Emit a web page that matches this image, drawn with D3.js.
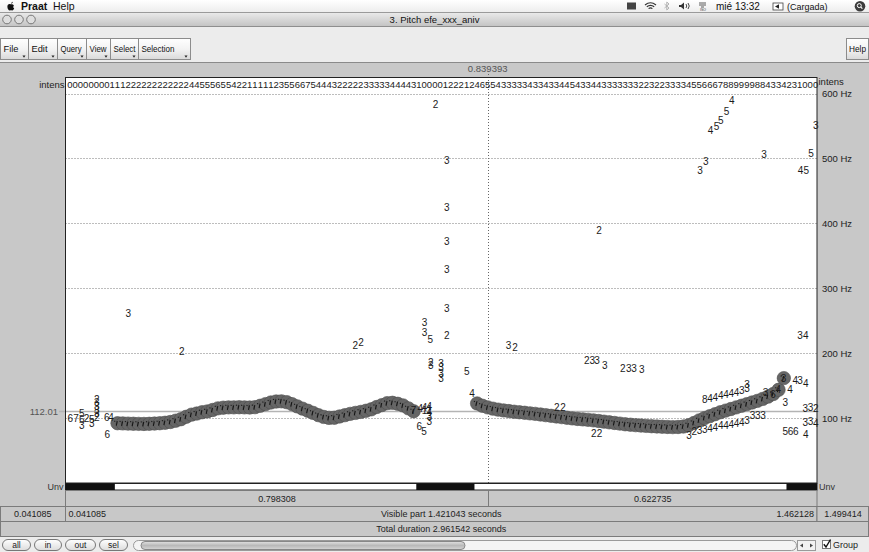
<!DOCTYPE html>
<html>
<head>
<meta charset="utf-8">
<script src="https://cdn.jsdelivr.net/npm/d3@7"></script>
<style>
  html, body { margin: 0; padding: 0; background: #ffffff; }
  svg { display: block; }
</style>
</head>
<body>
<svg id="chart" width="869" height="552"></svg>
<script>
// ---------------- data ----------------
const visibleStart = 0.041085;
const visibleEnd = 1.462128;
const totalDuration = 2.961542;
const cursorTime = 0.839393;
const horizontalCursorHz = 112.01;
const freqCeilingHz = 600;
const freqGridHz = [100, 200, 300, 400, 500, 600];
const frameStep = 0.01;

const windowTitle = "3. Pitch efe_xxx_aniv";
const toolbarMenus = ["File", "Edit", "Query", "View", "Select", "Selection"];
const bottomButtons = ["all", "in", "out", "sel"];

// intensity per frame (0-9), one digit per frame
const intensFirstTime = 0.0494;
const intensDigits =
  "00000000111222222222222445556554221111123556675444322222333334444310000122212465" +
  "5433333433433445433443333333223223333455666788999988433423100" + "0";

// selected pitch path: voiced stretch 1 and voiced stretch 2 (Hz per frame)
const seg1Start = 0.1394;
const seg1Hz = [92.6, 92.3, 92.0, 91.8, 91.6, 91.5, 91.7, 92.1, 92.6, 93.3,
                94.5, 96.5, 98.8, 102.5, 105.8, 107.5, 109.5, 110.8, 113.0, 115.5,
                116.5, 117.0, 117.0, 117.2, 117.0, 116.8, 117.3, 119.5, 122.0, 124.5,
                126.0, 126.3, 125.0, 122.0, 118.5, 115.0, 111.8, 108.5, 105.0, 102.3,
                100.8, 101.0, 103.0, 105.0, 107.0, 108.5, 110.0, 111.8, 114.0, 117.5,
                120.5, 123.5, 124.0, 122.5, 120.0, 115.5, 111.0];
const seg2Start = 0.8194;
const seg2Hz = [123.0, 119.5, 117.0, 115.0, 113.5, 112.3, 111.3, 110.3, 109.5, 108.7,
                107.8, 107.0, 106.0, 105.0, 104.0, 103.0, 102.0, 101.0, 100.0, 99.2,
                98.5, 97.8, 97.0, 96.0, 95.0, 94.0, 93.0, 92.0, 91.0, 90.3,
                89.6, 89.0, 88.5, 88.0, 87.6, 87.2, 86.9, 86.6, 86.8, 87.5,
                89.5, 93.0, 97.0, 100.5, 103.5, 106.5, 109.5, 112.0, 114.5, 117.0,
                119.5, 122.0, 124.5, 127.0, 130.0, 133.5, 137.5, 144.0, 162.0];

// other pitch candidates: [time s, frequency Hz, strength digit]
const candidates = [
  [0.741, 583, "2"], [0.762, 497, "3"], [0.762, 425, "3"], [0.762, 372, "3"],
  [0.762, 330, "3"], [0.762, 270, "3"], [0.720, 247, "3"], [0.720, 232, "3"],
  [0.731, 222, "5"], [0.762, 228, "2"], [0.879, 213, "3"], [0.891, 209, "2"],
  [1.301, 589, "4"], [1.291, 573, "5"], [1.280, 559, "5"], [1.272, 549, "5"],
  [1.261, 543, "4"], [1.460, 551, "3"], [1.362, 506, "3"], [1.451, 508, "5"],
  [1.252, 495, "3"], [1.241, 482, "3"], [1.431, 481, "4"], [1.442, 481, "5"],
  [1.050, 390, "2"], [1.430, 227, "3"], [1.441, 227, "4"],
  [0.160, 262, "3"], [0.261, 203, "2"], [0.589, 213, "2"], [0.600, 217, "2"],
  [1.027, 189, "2"], [1.037, 189, "3"], [1.046, 189, "3"], [1.061, 182, "3"],
  [1.095, 177, "2"], [1.106, 177, "3"], [1.116, 177, "3"], [1.131, 176, "3"],
  [0.732, 186, "2"], [0.732, 181, "3"],
  [0.751, 185, "3"], [0.751, 178, "3"], [0.751, 170, "3"], [0.751, 162, "3"],
  [0.800, 172, "5"], [0.810, 139, "4"],
  [0.699, 113, "7"], [0.712, 116, "4"], [0.720, 117, "4"], [0.720, 113, "1"],
  [0.729, 118, "4"], [0.729, 114, "1"], [0.729, 109, "4"], [0.729, 103, "3"], [0.729, 96, "3"],
  [0.710, 87, "6"], [0.719, 80, "5"],
  [0.050, 100, "6"], [0.061, 100, "7"], [0.072, 107, "5"], [0.072, 99, "6"], [0.072, 90, "3"],
  [0.081, 100, "2"], [0.091, 99, "5"], [0.091, 92, "3"],
  [0.100, 130, "2"], [0.100, 124, "3"], [0.100, 118, "3"], [0.100, 112, "3"], [0.100, 107, "3"], [0.100, 101, "2"],
  [0.119, 101, "6"], [0.127, 101, "4"], [0.120, 76, "6"],
  [0.970, 117, "2"], [0.982, 117, "2"], [1.040, 77, "2"], [1.051, 77, "2"],
  [1.25, 128.5, "8"], [1.26, 130.8, "4"], [1.27, 133.1, "4"], [1.28, 134.7, "4"], [1.29, 136.2, "4"],
  [1.30, 138.5, "4"], [1.31, 140.8, "4"], [1.32, 143.1, "3"], [1.33, 145.5, "3"], [1.33, 153, "3"],
  [1.22, 74.6, "3"], [1.23, 80.7, "2"], [1.24, 82.3, "3"], [1.25, 83.8, "3"], [1.26, 85.4, "4"],
  [1.27, 86.9, "4"], [1.28, 88.5, "4"], [1.29, 90.0, "4"], [1.30, 91.5, "4"], [1.31, 93.1, "4"],
  [1.32, 94.6, "4"], [1.33, 97.0, "3"], [1.34, 104, "3"], [1.35, 104, "3"], [1.36, 104, "3"],
  [1.421, 159, "4"], [1.430, 158, "3"], [1.441, 154, "4"], [1.411, 145, "4"], [1.402, 124, "3"],
  [1.440, 115, "3"], [1.450, 117, "3"], [1.460, 116, "2"],
  [1.440, 94, "3"], [1.450, 96, "3"], [1.460, 92, "4"],
  [1.402, 80, "5"], [1.412, 80, "6"], [1.422, 80, "6"], [1.441, 76, "4"],
  [1.365, 140, "3"], [1.399, 162, "3"], [1.389, 144, "4"], [1.379, 137.5, "6"]
];

// ---------------- drawing ----------------
const W = 869, H = 552;
const FONT = "'Liberation Sans', Arial, Helvetica, sans-serif";
const NARROW = "'Liberation Sans Narrow', 'Liberation Sans', sans-serif";
const plotL = 65.5, plotR = 817, plotTop = 77, plotBottom = 483;

const svg = d3.select("#chart").attr("font-family", FONT);
const defs = svg.append("defs");

function vGrad(id, stops) {
  const g = defs.append("linearGradient").attr("id", id)
    .attr("x1", 0).attr("y1", 0).attr("x2", 0).attr("y2", 1);
  stops.forEach(([o, c]) => g.append("stop").attr("offset", o).attr("stop-color", c));
}
vGrad("menuG", [[0, "#ffffff"], [1, "#ededed"]]);
vGrad("titleG", [[0, "#e9e9e9"], [1, "#c4c4c4"]]);
vGrad("btnG", [[0, "#ffffff"], [0.5, "#f3f3f3"], [1, "#d9d9d9"]]);
vGrad("pillG", [[0, "#ffffff"], [1, "#dcdcdc"]]);
vGrad("thumbG", [[0, "#e2e2e2"], [0.5, "#b9b9b9"], [1, "#d5d5d5"]]);

// scales
const x = d3.scaleLinear().domain([visibleStart, visibleEnd]).range([plotL, plotR]);
const y = d3.scaleLinear().domain([0, freqCeilingHz]).range([483.4, 93.5]);

// ---- system menu bar ----
svg.append("rect").attr("x", 0).attr("y", 0).attr("width", W).attr("height", 12).attr("fill", "url(#menuG)");
svg.append("line").attr("x1", 0).attr("x2", W).attr("y1", 12.5).attr("y2", 12.5).attr("stroke", "#9a9a9a");
// apple
svg.append("path").attr("fill", "#111")
  .attr("d", "M10.5,4.2 C8.6,3.6 7.2,5 7.4,7 C7.6,9.2 8.8,10.8 10,10.6 C10.4,10.5 10.7,10.3 11,10.3 C11.3,10.3 11.6,10.5 12,10.6 C13,10.7 13.9,9.4 14.2,8.3 C13.2,7.9 12.9,6.3 13.9,5.4 C13.3,4.4 12.2,4 11.5,4.2 C11.1,4.3 10.9,4.3 10.5,4.2 Z M11.2,3.8 C11.2,2.8 11.9,2 12.8,1.8 C12.8,2.8 12.1,3.6 11.2,3.8 Z");
svg.append("text").attr("x", 21).attr("y", 9.8).attr("font-size", 10.5).attr("font-weight", "bold").attr("fill", "#111").text("Praat");
svg.append("text").attr("x", 53).attr("y", 9.8).attr("font-size", 10.5).attr("fill", "#111").text("Help");
// status icons
const st = svg.append("g").attr("fill", "none").attr("stroke", "#333");
st.append("rect").attr("x", 627).attr("y", 2.5).attr("width", 9).attr("height", 7).attr("fill", "#444").attr("stroke", "none");
st.append("path").attr("stroke-width", 1.2).attr("d", "M645,5 Q650.5,0.5 656,5 M646.8,6.8 Q650.5,3.8 654.2,6.8 M648.6,8.6 Q650.5,7 652.4,8.6");
st.append("path").attr("stroke", "#aaa").attr("stroke-width", 0.9).attr("d", "M664.5,4 L669,8 L666.8,10 L666.8,2 L669,4 L664.5,8");
st.append("path").attr("fill", "#333").attr("stroke", "none").attr("d", "M679,5 L681,5 L684,2.5 L684,9.5 L681,7 L679,7 Z");
st.append("path").attr("stroke-width", 0.9).attr("d", "M686,4 Q687.5,6 686,8 M688,3 Q690.5,6 688,9");
st.append("path").attr("stroke-width", 0.8).attr("d", "M699,3 L706,3 M699,5 L706,5 M701,7 L704,7");
svg.append("text").attr("x", 700).attr("y", 10.8).attr("font-size", 3.5).attr("fill", "#333").text("ISO");
svg.append("text").attr("x", 716).attr("y", 9.8).attr("font-size", 10).attr("fill", "#111").text("mié 13:32");
svg.append("rect").attr("x", 773).attr("y", 3).attr("width", 10).attr("height", 7).attr("fill", "#fff").attr("stroke", "#444").attr("stroke-width", 0.8);
svg.append("path").attr("fill", "#222").attr("d", "M775,6.5 L779,4.2 L779,8.8 Z");
svg.append("text").attr("x", 787).attr("y", 9.5).attr("font-size", 9).attr("fill", "#111").text("(Cargada)");
svg.append("circle").attr("cx", 860).attr("cy", 6.2).attr("r", 5.3).attr("fill", "#3c3c3c");
svg.append("circle").attr("cx", 859.3).attr("cy", 5.6).attr("r", 2).attr("fill", "none").attr("stroke", "#fff").attr("stroke-width", 1);
svg.append("line").attr("x1", 860.8).attr("y1", 7.1).attr("x2", 862.4).attr("y2", 8.7).attr("stroke", "#fff").attr("stroke-width", 1.2);

// ---- window title bar ----
svg.append("rect").attr("x", 0).attr("y", 13).attr("width", W).attr("height", 13).attr("fill", "url(#titleG)");
svg.append("line").attr("x1", 0).attr("x2", W).attr("y1", 26.5).attr("y2", 26.5).attr("stroke", "#8e8e8e");
[7, 19, 31].forEach(cx => svg.append("circle").attr("cx", cx).attr("cy", 19.5).attr("r", 4.3)
  .attr("fill", "#dedede").attr("stroke", "#6d6d6d").attr("stroke-width", 0.9));
svg.append("text").attr("x", W / 2).attr("y", 23).attr("text-anchor", "middle").attr("font-size", 9.5).attr("fill", "#111").text(windowTitle);

// ---- editor toolbar ----
svg.append("rect").attr("x", 0).attr("y", 27).attr("width", W).attr("height", 35).attr("fill", "#ececec");
const tb = svg.append("g");
let bx = 0.5;
const menuW = [28, 29, 29, 24, 28, 52];
const labelW = [15, 16, 21, 17, 22, 33];
toolbarMenus.forEach((name, i) => {
  const g = tb.append("g");
  const bw = menuW[i];
  g.append("rect").attr("x", bx).attr("y", 38.5).attr("width", bw).attr("height", 21)
    .attr("fill", "url(#btnG)").attr("stroke", "#8c8c8c").attr("stroke-width", 1);
  g.append("text").attr("x", bx + 3).attr("y", 51.5).attr("font-size", 9).attr("font-family", NARROW)
    .attr("fill", "#111").attr("textLength", labelW[i]).attr("lengthAdjust", "spacingAndGlyphs").text(name);
  g.append("path").attr("fill", "#222").attr("d", `M${bx + bw - 6},55.5 l3,0 l-1.5,2.2 z`);
  bx += bw;
});
tb.append("rect").attr("x", 846.5).attr("y", 38.5).attr("width", 22).attr("height", 21).attr("fill", "url(#btnG)").attr("stroke", "#8c8c8c");
tb.append("text").attr("x", 849).attr("y", 51.5).attr("font-size", 9).attr("font-family", NARROW).attr("fill", "#111")
  .attr("textLength", 17).attr("lengthAdjust", "spacingAndGlyphs").text("Help");

// ---- editor drawing area ----
svg.append("rect").attr("x", 0).attr("y", 62).attr("width", W).attr("height", 475).attr("fill", "#c8c8c8");
svg.append("line").attr("x1", 0).attr("x2", W).attr("y1", 62.5).attr("y2", 62.5).attr("stroke", "#8a8a8a");
svg.append("rect").attr("x", plotL).attr("y", plotTop).attr("width", plotR - plotL).attr("height", plotBottom - plotTop).attr("fill", "#ffffff");

// frequency grid (dotted) and right-hand labels
const gridG = svg.append("g");
freqGridHz.forEach(f => {
  gridG.append("line").attr("x1", plotL).attr("x2", plotR).attr("y1", Math.round(y(f)) + 0.5).attr("y2", Math.round(y(f)) + 0.5)
    .attr("stroke", "#7a7a7a").attr("stroke-width", 1).attr("stroke-dasharray", "1,2");
  gridG.append("text").attr("x", plotR + 5).attr("y", y(f) + 3.5).attr("font-size", 9.5).attr("fill", "#222").text(f + " Hz");
});

// horizontal cursor at 112.01 Hz
const hc = Math.round(y(horizontalCursorHz)) + 0.5;
svg.append("line").attr("x1", 59).attr("x2", plotR).attr("y1", hc).attr("y2", hc).attr("stroke", "#b4b4b4").attr("stroke-width", 1.4);
svg.append("text").attr("x", 58).attr("y", hc + 3.3).attr("text-anchor", "end").attr("font-size", 9.5).attr("fill", "#555")
  .text(d3.format(".2f")(horizontalCursorHz));

// vertical cursor
const cx0 = Math.round(x(cursorTime)) + 0.5;
svg.append("line").attr("x1", cx0).attr("x2", cx0).attr("y1", 74).attr("y2", plotBottom)
  .attr("stroke", "#666").attr("stroke-width", 1).attr("stroke-dasharray", "1,2");
svg.append("text").attr("x", x(cursorTime)).attr("y", 71.5).attr("text-anchor", "middle").attr("font-size", 9.5).attr("fill", "#555")
  .text(d3.format(".6f")(cursorTime));

// intensity row
const intensG = svg.append("g").attr("font-size", 9.5).attr("fill", "#222").attr("text-anchor", "middle");
intensG.selectAll("text").data(intensDigits.split("")).join("text")
  .attr("x", (d, i) => x(intensFirstTime + i * frameStep))
  .attr("y", 87.5)
  .text(d => d);
svg.append("text").attr("x", plotL - 1).attr("y", 87.5).attr("text-anchor", "end").attr("font-size", 9.5).attr("fill", "#222").text("intens");
svg.append("text").attr("x", plotR + 1.5).attr("y", 84.5).attr("font-size", 9.5).attr("fill", "#222").text("intens");

// pitch path circles
const pathFrames = [
  ...seg1Hz.map((f, i) => ({ t: seg1Start + i * frameStep, f })),
  ...seg2Hz.map((f, i) => ({ t: seg2Start + i * frameStep, f }))
];
const pitchG = svg.append("g");
pitchG.selectAll("circle").data(pathFrames).join("circle")
  .attr("cx", d => x(d.t)).attr("cy", d => y(d.f)).attr("r", 6.7)
  .attr("fill", "#666666").attr("stroke", "#4d4d4d").attr("stroke-width", 0.6);
pitchG.selectAll("path.mark").data(pathFrames).join("path").attr("class", "mark")
  .attr("d", d => { const px = x(d.t), py = y(d.f); return `M${px - 1.2},${py + 2.4} L${px - 0.2},${py - 2.1} M${px - 3},${py - 1.6} l0.6,-0.9`; })
  .attr("stroke", "#151515").attr("stroke-width", 1.1).attr("fill", "none");

// remaining candidates as strength digits
svg.append("g").attr("font-size", 10).attr("fill", "#1b1b1b").attr("text-anchor", "middle")
  .selectAll("text").data(candidates).join("text")
  .attr("x", d => x(d[0])).attr("y", d => y(d[1]) + 3.6)
  .text(d => d[2]);

// plot frame
svg.append("rect").attr("x", plotL).attr("y", plotTop + 0.5).attr("width", plotR - plotL).attr("height", plotBottom - plotTop - 0.5)
  .attr("fill", "none").attr("stroke", "#222").attr("stroke-width", 1);

// voiced / unvoiced bar
const uvTop = 483.5, uvBot = 490;
svg.append("rect").attr("x", plotL).attr("y", uvTop).attr("width", plotR - plotL).attr("height", uvBot - uvTop).attr("fill", "#fff").attr("stroke", "#222").attr("stroke-width", 1);
const seg1End = seg1Start + (seg1Hz.length - 1) * frameStep;
const seg2End = seg2Start + (seg2Hz.length - 1) * frameStep;
const unvoiced = [
  [visibleStart, seg1Start - frameStep / 2],
  [seg1End + frameStep / 2, seg2Start - frameStep / 2],
  [seg2End + frameStep / 2, visibleEnd]
];
svg.append("g").selectAll("rect").data(unvoiced).join("rect")
  .attr("x", d => x(d[0])).attr("y", uvTop).attr("width", d => x(d[1]) - x(d[0])).attr("height", uvBot - uvTop).attr("fill", "#111");
svg.append("text").attr("x", plotL - 2).attr("y", 489.5).attr("text-anchor", "end").attr("font-size", 9).attr("fill", "#333").text("Unv");
svg.append("text").attr("x", plotR + 2).attr("y", 489.5).attr("font-size", 9).attr("fill", "#333").text("Unv");

// time bars
function cell(x0, y0, x1, y1) {
  svg.append("rect").attr("x", x0).attr("y", y0).attr("width", x1 - x0).attr("height", y1 - y0)
    .attr("fill", "#c8c8c8").attr("stroke", "#7b7b7b").attr("stroke-width", 1);
}
const fmt6 = d3.format(".6f");
cell(plotL, 490.5, cx0, 506.5);
cell(cx0, 490.5, plotR, 506.5);
cell(0.5, 506.5, plotL, 521.5);
cell(plotL, 506.5, plotR, 521.5);
cell(plotR, 506.5, 868.5, 521.5);
cell(0.5, 521.5, 868.5, 536.5);
const tg = svg.append("g").attr("font-size", 9).attr("fill", "#222");
tg.append("text").attr("x", (plotL + cx0) / 2).attr("y", 501.5).attr("text-anchor", "middle").text(fmt6(cursorTime - visibleStart));
tg.append("text").attr("x", (cx0 + plotR) / 2).attr("y", 501.5).attr("text-anchor", "middle").text(fmt6(visibleEnd - cursorTime));
tg.append("text").attr("x", plotL / 2).attr("y", 517).attr("text-anchor", "middle").text(fmt6(visibleStart));
tg.append("text").attr("x", plotL + 3).attr("y", 517).text(fmt6(visibleStart));
tg.append("text").attr("x", (plotL + plotR) / 2).attr("y", 517).attr("text-anchor", "middle").text("Visible part " + fmt6(visibleEnd - visibleStart) + " seconds");
tg.append("text").attr("x", plotR - 3).attr("y", 517).attr("text-anchor", "end").text(fmt6(visibleEnd));
tg.append("text").attr("x", (plotR + W) / 2).attr("y", 517).attr("text-anchor", "middle").text(fmt6(totalDuration - visibleEnd));
tg.append("text").attr("x", (plotL + plotR) / 2).attr("y", 532).attr("text-anchor", "middle").text("Total duration " + fmt6(totalDuration) + " seconds");

// ---- bottom controls ----
svg.append("rect").attr("x", 0).attr("y", 537).attr("width", W).attr("height", 15).attr("fill", "#ececec");
const bb = svg.append("g");
let px = 2.5;
const btnW = [28, 27, 30, 28];
bottomButtons.forEach((name, i) => {
  bb.append("rect").attr("x", px).attr("y", 539.5).attr("width", btnW[i]).attr("height", 11).attr("rx", 5.5)
    .attr("fill", "url(#pillG)").attr("stroke", "#777");
  bb.append("text").attr("x", px + btnW[i] / 2).attr("y", 548).attr("text-anchor", "middle").attr("font-size", 8.5).attr("font-family", NARROW).attr("fill", "#222").text(name);
  px += btnW[i] + 4;
});
bb.append("rect").attr("x", 133.5).attr("y", 540.5).attr("width", 663).attr("height", 10).attr("rx", 5).attr("fill", "#f4f4f4").attr("stroke", "#9a9a9a");
bb.append("rect").attr("x", 141).attr("y", 541.5).attr("width", 324).attr("height", 8).attr("rx", 4).attr("fill", "url(#thumbG)").attr("stroke", "#888");
bb.append("rect").attr("x", 797.5).attr("y", 540.5).attr("width", 18).attr("height", 10).attr("fill", "#f2f2f2").attr("stroke", "#9a9a9a");
bb.append("path").attr("fill", "#444").attr("d", "M800,545.5 l3,-2 l0,4 z M813,545.5 l-3,-2 l0,4 z");
bb.append("rect").attr("x", 822.5).attr("y", 540.5).attr("width", 8).attr("height", 8).attr("fill", "#fff").attr("stroke", "#777");
bb.append("path").attr("fill", "none").attr("stroke", "#111").attr("stroke-width", 1.4).attr("d", "M823.8,544.2 L826,547 L830.5,539.5");
bb.append("text").attr("x", 833).attr("y", 548).attr("font-size", 9).attr("font-family", NARROW).attr("fill", "#222").text("Group");
</script>
</body>
</html>
